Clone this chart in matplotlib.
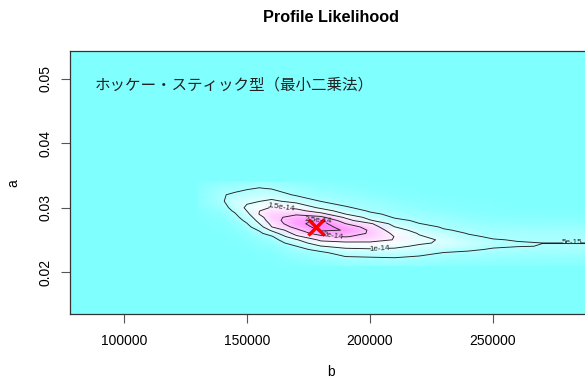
import numpy as np
import matplotlib.pyplot as plt
from matplotlib.colors import LinearSegmentedColormap

plt.rcParams['font.family'] = ['Liberation Sans', 'DejaVu Sans']

# profile likelihood grid, values in units of 1e-15
b_grid = [130000, 140000, 145000, 150000, 155000, 160000, 170000, 180000, 190000,
          200000, 210000, 220000, 230000, 240000, 250000, 260000, 270000, 285000, 300000]
a_grid = [0.021, 0.022, 0.023, 0.0235, 0.024, 0.0245, 0.025, 0.0255, 0.026, 0.0265,
          0.027, 0.0275, 0.028, 0.0285, 0.029, 0.0295, 0.030, 0.031, 0.032, 0.033, 0.034]

# one list per b value, running up through a_grid
lik_by_b = [
    [0, 0, 0, 0, 0, 0, 0, 0, 0, 0, 0.05, 0.1, 0.2, 0.3, 0.4, 0.6, 0.8, 1.0, 1.0, 0.8, 0.5],
    [0, 0, 0.05, 0.05, 0.1, 0.1, 0.15, 0.2, 0.3, 0.4, 0.5, 0.7, 0.9, 1.3, 1.8, 2.5, 3.2, 4.4, 4.6, 3.4, 1.8],
    [0.05, 0.1, 0.1, 0.15, 0.2, 0.25, 0.3, 0.5, 0.7, 1.0, 1.4, 2.0, 2.8, 3.6, 4.5, 5.7, 6.8, 8.4, 5.9, 3.5, 2.0],
    [0.0, 0.1, 0.2, 0.3, 0.5, 0.7, 1.0, 1.4, 2.0, 2.8, 3.7, 4.8, 6.05, 7.4, 8.7, 10.1, 11.0, 9.1, 6.8, 4.55, 2.5],
    [0.1, 0.2, 0.5, 0.8, 1.1, 1.6, 2.2, 3.0, 4.0, 5.4, 7.7, 9.9, 11.5, 13.0, 15.2, 14.9, 13.1, 9.9, 7.6, 5.2, 3.0],
    [0.1, 0.3, 0.7, 1.1, 1.6, 2.3, 3.2, 4.4, 7.5, 10.8, 14.9, 16.2, 17.8, 18.5, 18.2, 17.0, 15.4, 10.9, 7.6, 4.7, 2.5],
    [0.5, 1.2, 2.6, 3.6, 4.9, 7.3, 9.5, 14.0, 16.7, 18.75, 21.5, 23.8, 23.5, 21.8, 19.4, 16.7, 13.9, 8.6, 4.4, 3.0, 1.5],
    [1.0, 2.2, 4.2, 6.4, 9.8, 13.1, 16.0, 18.5, 22.5, 25.8, 27.2, 26.9, 25.8, 21.2, 16.7, 12.5, 9.1, 4.9, 3.2, 1.8, 0.8],
    [1.8, 3.8, 6.8, 9.1, 11.5, 14.0, 17.1, 20.3, 22.5, 24.8, 23.0, 20.1, 17.2, 14.2, 10.05, 7.7, 5.45, 3.5, 2.3, 1.2, 0.4],
    [2.0, 4.0, 7.3, 9.5, 11.8, 14.1, 16.8, 18.6, 19.5, 19.3, 18.0, 15.9, 10.5, 8.2, 5.9, 4.5, 3.8, 2.6, 1.5, 0.6, 0.2],
    [2.2, 4.3, 7.5, 9.3, 11.0, 13.0, 14.8, 14.9, 14.0, 12.3, 10.1, 8.1, 6.15, 4.6, 4.0, 3.2, 2.5, 1.6, 0.8, 0.3, 0.1],
    [1.8, 3.6, 6.5, 7.9, 9.3, 10.6, 11.2, 10.5, 9.6, 8.0, 6.5, 5.1, 4.3, 3.6, 2.9, 2.2, 1.6, 0.9, 0.4, 0.15, 0.05],
    [1.2, 2.8, 4.9, 6.8, 8.4, 9.4, 9.4, 8.4, 6.9, 5.3, 4.6, 4.0, 3.4, 2.7, 2.0, 1.5, 1.0, 0.5, 0.2, 0.1, 0.0],
    [1.0, 2.5, 4.5, 5.5, 6.9, 7.8, 7.0, 5.6, 4.8, 4.4, 3.8, 3.1, 2.4, 1.8, 1.3, 0.9, 0.6, 0.3, 0.1, 0.05, 0.0],
    [0.9, 2.2, 3.9, 4.7, 5.4, 6.0, 5.2, 4.5, 4.0, 3.5, 2.9, 2.3, 1.7, 1.2, 0.8, 0.5, 0.3, 0.15, 0.05, 0.02, 0.0],
    [0.8, 2.0, 3.6, 4.3, 5.1, 5.2, 4.8, 4.5, 4.1, 3.5, 2.8, 2.1, 1.5, 1.0, 0.6, 0.35, 0.2, 0.08, 0.02, 0.0, 0.0],
    [0.8, 1.9, 3.5, 4.2, 4.95, 5.01, 4.6, 4.3, 3.9, 3.4, 2.7, 2.0, 1.4, 0.9, 0.55, 0.3, 0.2, 0.07, 0.02, 0.0, 0.0],
    [0.8, 1.9, 3.5, 4.2, 4.95, 5.01, 4.6, 4.3, 3.9, 3.4, 2.7, 2.0, 1.4, 0.9, 0.55, 0.3, 0.2, 0.07, 0.02, 0.0, 0.0],
    [0.8, 1.9, 3.5, 4.2, 4.95, 5.01, 4.6, 4.3, 3.9, 3.4, 2.7, 2.0, 1.4, 0.9, 0.55, 0.3, 0.2, 0.07, 0.02, 0.0, 0.0],
]

levels = [5e-15, 1e-14, 1.5e-14, 2e-14, 2.5e-14]
b_hat, a_hat = 178000, 0.0270

b_ticks = [100000, 150000, 200000, 250000]
a_ticks = [0.02, 0.03, 0.04, 0.05]

Z = np.array(lik_by_b).T * 1e-15
B, A = np.meshgrid(b_grid, a_grid)

fig = plt.figure(figsize=(5.85, 3.83), dpi=100)
ax = fig.add_axes([70 / 585, 69 / 383, 522 / 585, 263 / 383])
ax.set_facecolor('#80FFFF')

cm_colors = LinearSegmentedColormap.from_list('cm', ['#80FFFF', '#FFFFFF', '#FF80FF'])
ax.pcolormesh(B, A, Z, shading='gouraud', cmap=cm_colors, vmin=0, vmax=Z.max())

cs = ax.contour(b_grid, a_grid, Z, levels=levels, colors='#222222', linewidths=0.65)
# label spots, each placed right on its own contour line
label_spots = [(282000, 0.02447), (204000, 0.02365), (163800, 0.0300),
               (185000, 0.0256), (178900, 0.0281)]
ax.clabel(cs, fmt=lambda v: f'{v:g}', fontsize=5.8, inline=True,
          inline_spacing=1, manual=label_spots)

ax.plot(b_hat, a_hat, marker='x', color='red', markersize=11, mew=2.5)

ax.text(0.048, 0.871, 'ホッケー・スティック型（最小二乗法）', transform=ax.transAxes,
        fontsize=11.2, family=['Noto Sans CJK JP', 'DejaVu Sans'], va='center', color='#222222')

ax.set_xlim(78050, 290250)
ax.set_ylim(0.01347, 0.05435)
ax.set_xticks(b_ticks)
ax.set_xticklabels([str(t) for t in b_ticks])
ax.set_yticks(a_ticks)
ax.set_yticklabels([f'{t:.2f}' for t in a_ticks], rotation=90, va='center')
ax.tick_params(direction='out', length=6.5, width=0.8, color='#555555', labelsize=10)
ax.tick_params(axis='x', pad=8)
ax.tick_params(axis='y', pad=6)
for s in ax.spines.values():
    s.set_linewidth(0.9)
    s.set_color('#333333')

fig.text(331 / 585, 1 - 18 / 383, 'Profile Likelihood', ha='center', va='center',
         fontweight='bold', fontsize=11.7)
fig.text(331 / 585, 1 - 372 / 383, 'b', ha='center', va='center', fontsize=10)
fig.text(13 / 585, 1 - 183 / 383, 'a', ha='center', va='center', fontsize=10, rotation=90)

fig.savefig('out.png', dpi=100)
